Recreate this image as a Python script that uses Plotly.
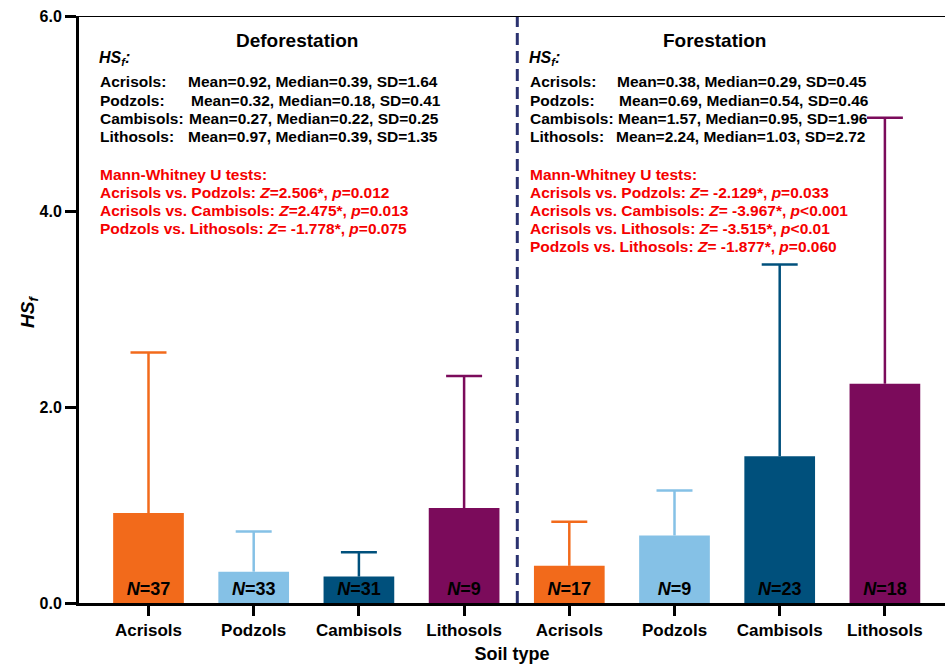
import plotly.graph_objects as go

# ---------------- data ----------------
soils = ["Acrisols", "Podzols", "Cambisols", "Lithosols"]
groups = ["Deforestation", "Forestation"]
categories = soils + soils
means = [0.92, 0.32, 0.27, 0.97, 0.38, 0.69, 1.50, 2.24]
sds = [1.64, 0.41, 0.25, 1.35, 0.45, 0.46, 1.96, 2.72]
n_labels = ["37", "33", "31", "9", "17", "9", "23", "18"]
colors = ["#F26A1B", "#85C1E6", "#00507C", "#7B0B5B"] * 2
y_ticks = [0, 2, 4, 6]

defo_stats = [
    ("Acrisols:", "Mean=0.92, Median=0.39, SD=1.64"),
    ("Podzols:", "Mean=0.32, Median=0.18, SD=0.41"),
    ("Cambisols:", "Mean=0.27, Median=0.22, SD=0.25"),
    ("Lithosols:", "Mean=0.97, Median=0.39, SD=1.35"),
]
fore_stats = [
    ("Acrisols:", "Mean=0.38, Median=0.29, SD=0.45"),
    ("Podzols:", "Mean=0.69, Median=0.54, SD=0.46"),
    ("Cambisols:", "Mean=1.57, Median=0.95, SD=1.96"),
    ("Lithosols:", "Mean=2.24, Median=1.03, SD=2.72"),
]
defo_tests = [
    "Mann-Whitney U tests:",
    "Acrisols vs. Podzols: <i>Z</i>=2.506*, <i>p</i>=0.012",
    "Acrisols vs. Cambisols: <i>Z</i>=2.475*, <i>p</i>=0.013",
    "Podzols vs. Lithosols: <i>Z</i>= -1.778*, <i>p</i>=0.075",
]
fore_tests = [
    "Mann-Whitney U tests:",
    "Acrisols vs. Podzols: <i>Z</i>= -2.129*, <i>p</i>=0.033",
    "Acrisols vs. Cambisols: <i>Z</i>= -3.967*, <i>p</i>&lt;0.001",
    "Acrisols vs. Lithosols: <i>Z</i>= -3.515*, <i>p</i>&lt;0.01",
    "Podzols vs. Lithosols: <i>Z</i>= -1.877*, <i>p</i>=0.060",
]

# ---------------- layout constants ----------------
W, H = 945, 666
ML, MR, MT, MB = 79, 0, 16, 63
X0_PX, STEP_PX = 148.5, 105.2
PLOT_H = H - MT - MB
PLOT_W = W - ML - MR
FONT = "Liberation Sans, Arial, Helvetica, sans-serif"
BAR_W = 0.672
CAP_HALF = 0.171


def xd(px):
    return (px - X0_PX) / STEP_PX


def yd(py):
    return (H - MB - py) / PLOT_H * 6.0


xpos = list(range(len(categories)))

fig = go.Figure()
fig.add_trace(go.Bar(
    x=xpos, y=means, width=BAR_W,
    marker=dict(color=colors, line=dict(width=0)),
    showlegend=False, hoverinfo="skip",
))
# upper-only whiskers with caps, coloured like the bars
for i in range(len(categories)):
    top = means[i] + sds[i]
    fig.add_trace(go.Scatter(
        x=[xpos[i], xpos[i], None, xpos[i] - CAP_HALF, xpos[i] + CAP_HALF],
        y=[means[i], top, None, top, top],
        mode="lines", line=dict(color=colors[i], width=2.5),
        showlegend=False, hoverinfo="skip", cliponaxis=False,
    ))
# N labels
fig.add_trace(go.Scatter(
    x=xpos, y=[yd(590)] * len(xpos), mode="text",
    text=[f"<b><i>N</i>=" + n + "</b>" for n in n_labels],
    textfont=dict(family=FONT, size=18, color="black"),
    textposition="middle center", showlegend=False, hoverinfo="skip",
    cliponaxis=False,
))

ann = []


def add_text(px, py, text, size=15.5, color="black", anchor="left"):
    ann.append(dict(x=xd(px), y=yd(py), xref="x", yref="y", text=text,
                    showarrow=False, xanchor=anchor, yanchor="middle",
                    font=dict(family=FONT, size=size, color=color, weight="bold")))


# titles
add_text(297, 40, groups[0], size=19, anchor="center")
add_text(714, 40, groups[1], size=19, anchor="center")
add_text(97, 58, "<i>HS<sub>f</sub>:</i>", size=16)
add_text(527, 58, "<i>HS<sub>f</sub>:</i>", size=16)

stat_y = [81.7, 100, 118.7, 136.7]
defo_val_x = [186, 189, 187, 186]
fore_val_x = [615, 617, 616, 614]
for i, (lab, val) in enumerate(defo_stats):
    add_text(97.5, stat_y[i], lab)
    add_text(defo_val_x[i], stat_y[i], val)
for i, (lab, val) in enumerate(fore_stats):
    add_text(527.5, stat_y[i], lab)
    add_text(fore_val_x[i], stat_y[i], val)

test_y = [174, 192, 210, 228, 246.5]
RED = "#F50000"
for i, t in enumerate(defo_tests):
    add_text(97.5, test_y[i], t, color=RED)
for i, t in enumerate(fore_tests):
    add_text(527.5, test_y[i], t, color=RED)

# y-axis title as rotated annotation
ann.append(dict(x=(29 - ML) / PLOT_W, y=yd(312) / 6.0, xref="paper", yref="paper",
                text="<i>HS<sub>f</sub></i>", showarrow=False, textangle=-90,
                xanchor="center", yanchor="middle",
                font=dict(family=FONT, size=19, color="black", weight="bold")))

shapes = [
    dict(type="line", xref="x", yref="y", x0=xd(517.3), x1=xd(517.3), y0=0, y1=6,
         line=dict(color="#2B3270", width=3, dash="12px,6px")),
    dict(type="line", xref="paper", yref="y", x0=0, x1=1, y0=6, y1=6,
         line=dict(color="black", width=2)),
]

fig.update_layout(
    width=W, height=H,
    margin=dict(l=ML, r=MR, t=MT, b=MB, pad=0),
    plot_bgcolor="white", paper_bgcolor="white",
    annotations=ann, shapes=shapes,
    font=dict(family=FONT, color="black"),
    xaxis=dict(
        range=[xd(ML), xd(W)], tickmode="array", tickvals=xpos, ticktext=categories,
        tickfont=dict(family=FONT, size=17, color="black", weight="bold"),
        showline=True, linecolor="black", linewidth=3,
        ticks="outside", ticklen=10, tickwidth=3, tickcolor="black",
        showgrid=False, zeroline=False,
        title=dict(text="Soil type", font=dict(family=FONT, size=18, color="black", weight="bold"),
                   standoff=8),
    ),
    yaxis=dict(
        range=[0, 6], tickmode="array", tickvals=y_ticks,
        ticktext=[f"{v:.1f}" for v in y_ticks],
        tickfont=dict(family=FONT, size=16, color="black", weight="bold"),
        showline=True, linecolor="black", linewidth=3,
        ticks="outside", ticklen=11, tickwidth=3, tickcolor="black",
        showgrid=False, zeroline=False,
    ),
)

fig.write_html("out.html")
